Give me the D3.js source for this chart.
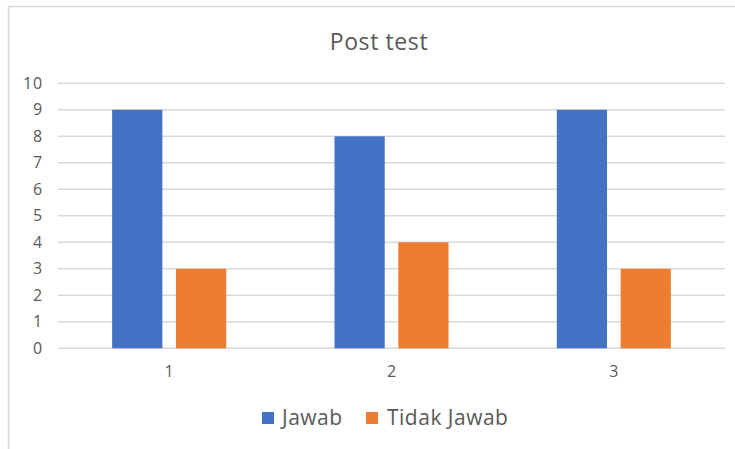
<!DOCTYPE html>
<html>
<head>
<meta charset="utf-8">
<script src="https://cdn.jsdelivr.net/npm/d3@7"></script>
<style>
  html, body { margin: 0; padding: 0; background: #fff; }
  svg { display: block; }
  text { font-family: "Open Sans", "Noto Sans", sans-serif; fill: #595959; }
</style>
</head>
<body>
<svg id="chart" width="735" height="449"></svg>
<script>
const title = "Post test";
const categories = ["1", "2", "3"];
const seriesNames = ["Jawab", "Tidak Jawab"];
const jawab = [9, 8, 9];
const tidakJawab = [3, 4, 3];
const yTicks = [0, 1, 2, 3, 4, 5, 6, 7, 8, 9, 10];
const colors = ["#4472C4", "#ED7D31"];

const svg = d3.select("#chart");

// Border (cropped chart frame)
svg.append("line").attr("x1", 8.5).attr("x2", 8.5).attr("y1", 6).attr("y2", 449)
  .attr("stroke", "#d9d9d9").attr("stroke-width", 1.5);
svg.append("line").attr("x1", 8).attr("x2", 735).attr("y1", 6.5).attr("y2", 6.5)
  .attr("stroke", "#d9d9d9").attr("stroke-width", 1.5);

const plotL = 58, plotR = 725, plotT = 83.3, plotB = 348.3;

const x = d3.scaleBand().domain(categories).range([plotL, plotR]).padding(0);
const y = d3.scaleLinear().domain([0, 10]).range([plotB, plotT]);

// Gridlines
svg.append("g").selectAll("line").data(yTicks).join("line")
  .attr("x1", plotL).attr("x2", plotR)
  .attr("y1", d => y(d)).attr("y2", d => y(d))
  .attr("stroke", "#d9d9d9").attr("stroke-width", 1.5);

// Y axis labels
const yAxis = d3.axisLeft(y).tickValues(yTicks).tickSize(0).tickPadding(0);
const gy = svg.append("g").attr("transform", `translate(${plotL - 15},0)`).call(yAxis);
gy.select(".domain").remove();
gy.selectAll("text").attr("font-size", 16).style("font-family", '"Open Sans", sans-serif')
  .style("letter-spacing", "0.8px").attr("fill", "#595959");

// X axis labels
const xAxis = d3.axisBottom(x).tickSize(0).tickPadding(0);
const gx = svg.append("g").attr("transform", `translate(0,${plotB + 17})`).call(xAxis);
gx.select(".domain").remove();
gx.selectAll("text").attr("font-size", 16).style("font-family", '"Open Sans", sans-serif').attr("fill", "#595959");

// Bars
const step = x.step();
const barW = step * 0.226;
const gap = step * 0.061;
const groupW = barW * 2 + gap;
const series = [jawab, tidakJawab];
series.forEach((vals, si) => {
  svg.append("g").selectAll("rect").data(categories.map((c, i) => ({c, v: vals[i]}))).join("rect")
    .attr("x", d => x(d.c) + (step - groupW) / 2 + si * (barW + gap))
    .attr("width", barW)
    .attr("y", d => y(d.v))
    .attr("height", d => y(0) - y(d.v))
    .attr("fill", colors[si]);
});

// Title
svg.append("text").attr("x", 379).attr("y", 49.5).attr("text-anchor", "middle")
  .attr("font-size", 23).style("letter-spacing", "0.6px").text(title);

// Legend
const legendItems = [
  {name: seriesNames[0], color: colors[0], sx: 262, tx: 282},
  {name: seriesNames[1], color: colors[1], sx: 366, tx: 387}
];
const lg = svg.append("g");
legendItems.forEach(it => {
  lg.append("rect").attr("x", it.sx).attr("y", 412).attr("width", 12).attr("height", 12).attr("fill", it.color);
  lg.append("text").attr("x", it.tx).attr("y", 425).attr("font-size", 21)
    .style("letter-spacing", "0.5px").text(it.name);
});
</script>
</body>
</html>
